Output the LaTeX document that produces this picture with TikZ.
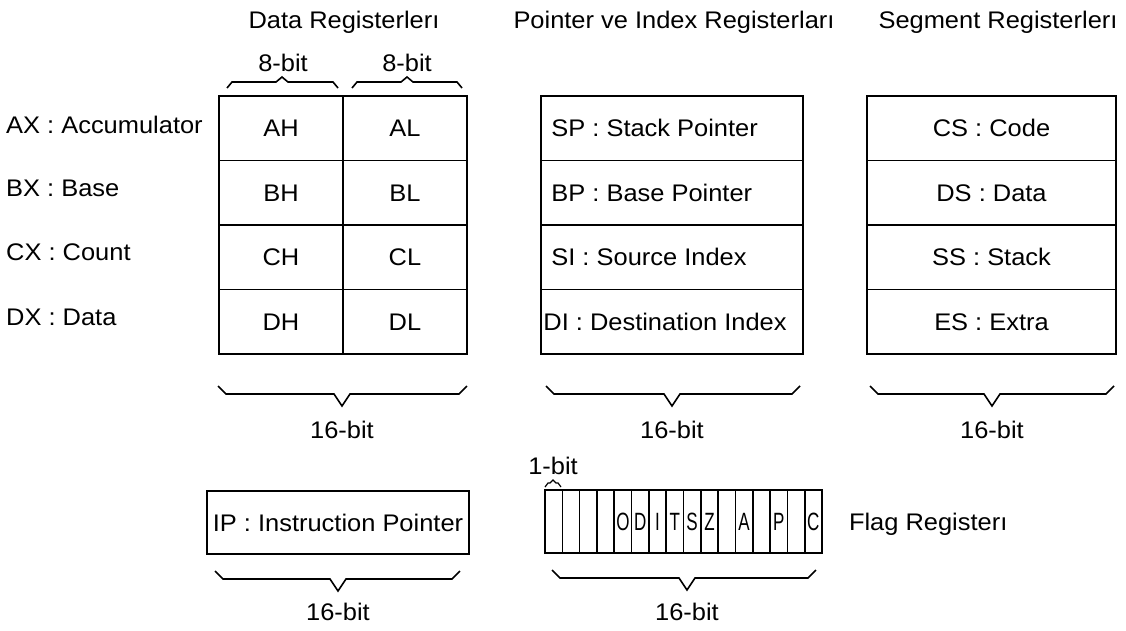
\documentclass[tikz,border=0pt]{standalone}
\usepackage{fontspec}
\setmainfont{Liberation Sans}[FakeStretch=1.06]
\newfontfamily\narrowfont{Liberation Sans}[FakeStretch=0.68]
\newcommand\ubr[4]{\draw[br] ({#1},{#4-8}) -- ({#1+8},{#4}) -- ({#3-8},{#4}) -- ({#3},{#4+12}) -- ({#3+8},{#4}) -- ({#2-8},{#4}) -- ({#2},{#4-8});}
\newcommand\obr[4]{\draw[br] ({#1},{#4+6}) -- ({#1+5},{#4}) -- ({#3-6},{#4}) -- ({#3},{#4-5}) -- ({#3+6},{#4}) -- ({#2-5},{#4}) -- ({#2},{#4+6});}
\begin{document}
\begin{tikzpicture}[x=1pt,y=-1pt,
  every node/.style={font=\fontsize{24}{28}\selectfont, text height=17.2pt, text depth=0pt},
  cell/.style={draw, line width=1.6pt, inner sep=0pt, minimum height=64.5pt},
  dcell/.style={cell, minimum width=124pt},
  pcell/.style={cell, minimum width=262pt},
  scell/.style={cell, minimum width=249pt},
  fcell/.style={cell, minimum width=17.3125pt, minimum height=63pt, font=\fontsize{25}{28}\selectfont\narrowfont, text height=18pt},
  lbl/.style={inner sep=0pt},
  br/.style={line width=1.6pt, line join=miter}]
\useasboundingbox (0,0) rectangle (1126,630);

% headers
\node[lbl] (hd) at (344,20) {Data Registerlerı};
\node[lbl] (hp) at (674,20) {Pointer ve Index Registerları};
\node[lbl] (hs) at (998,20) {Segment Registerlerı};

% 8-bit braces
\node[lbl] (b8a) at (283,63) {8-bit};
\node[lbl] (b8b) at (407,63) {8-bit};
\obr{227}{338}{282}{82}
\obr{352}{462}{407}{82}

% row labels
\node[lbl, anchor=west] (ax) at (6,125) {AX : Accumulator};
\node[lbl, anchor=west] (bx) at (6,188) {BX : Base};
\node[lbl, anchor=west] (cx) at (6,252) {CX : Count};
\node[lbl, anchor=west] (dx) at (6,317) {DX : Data};

% data registers
\node[dcell] (AH) at (281,128.25) {AH};
\node[dcell] (AL) at (405,128.25) {AL};
\node[dcell] (BH) at (281,192.75) {BH};
\node[dcell] (BL) at (405,192.75) {BL};
\node[dcell] (CH) at (281,257.25) {CH};
\node[dcell] (CL) at (405,257.25) {CL};
\node[dcell] (DH) at (281,321.75) {DH};
\node[dcell] (DL) at (405,321.75) {DL};

% pointer and index registers
\node[pcell] (SP) at (672,128.25) {};
\node[pcell] (BP) at (672,192.75) {};
\node[pcell] (SI) at (672,257.25) {};
\node[pcell] (DI) at (672,321.75) {};
\node[lbl, anchor=west] (tsp) at ([xshift=11pt]SP.west) {SP : Stack Pointer};
\node[lbl, anchor=west] (tbp) at ([xshift=11pt]BP.west) {BP : Base Pointer};
\node[lbl, anchor=west] (tsi) at ([xshift=11pt]SI.west) {SI : Source Index};
\node[lbl, anchor=west] (tdi) at ([xshift=3pt]DI.west) {DI : Destination Index};

% segment registers
\node[scell] (CS) at (991.5,128.25) {CS : Code};
\node[scell] (DS) at (991.5,192.75) {DS : Data};
\node[scell] (SS) at (991.5,257.25) {SS : Stack};
\node[scell] (ES) at (991.5,321.75) {ES : Extra};

% 16-bit braces (top row)
\ubr{218}{467}{342}{394}
\ubr{546}{800}{672}{394}
\ubr{870}{1114}{992}{394}
\node[lbl] (s1) at (342,430) {16-bit};
\node[lbl] (s2) at (672,430) {16-bit};
\node[lbl] (s3) at (992,430) {16-bit};

% instruction pointer
\node[cell, minimum width=262pt, minimum height=63pt] (IP) at (338,522.5) {IP : Instruction Pointer};
\ubr{215}{460}{338}{579}
\node[lbl] (s4) at (338,612) {16-bit};

% flag register
\foreach \i/\t in {1/,2/,3/,4/,5/O,6/D,7/I,8/T,9/S,10/Z,11/,12/A,13/,14/P,15/,16/C}
  \node[fcell] (f\i) at ({545+(\i-0.5)*17.3125},521.5) {\t};
\node[lbl] (b1) at (553,466) {1-bit};
\draw[br, line width=1.2pt] (545,487) -- (548,483) -- (550,483) -- (553,480) -- (556,483) -- (558,483) -- (561,487);
\ubr{552}{816}{687}{578}
\node[lbl] (s5) at (687,612) {16-bit};
\node[lbl, anchor=west] (fr) at ([xshift=26pt]f16.east) {Flag Registerı};
\end{tikzpicture}
\end{document}
